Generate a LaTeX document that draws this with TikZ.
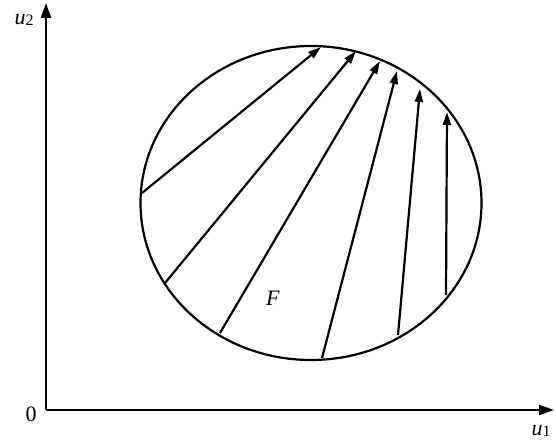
\documentclass[tikz,border=0pt]{standalone}
\usepackage{fontspec}
\setmainfont{Liberation Serif}
\usetikzlibrary{arrows.meta,shapes.geometric}
\begin{document}
\begin{tikzpicture}[x=1pt,y=-1pt,
  axis/.style={line width=2.3pt,-{Triangle[length=15pt,width=10pt]}},
  flow/.style={line width=2.2pt,-{Triangle[length=13pt,width=8pt]}},
  lab/.style={font=\fontsize{22}{24}\selectfont}]
\useasboundingbox (0,0) rectangle (556,441);
\coordinate (O) at (46,410);
\coordinate (Y) at (46,3);
\coordinate (X) at (554,410);
\draw[axis] (O) -- (Y);
\draw[axis] (O) -- (X);
\node[lab,anchor=base] (u2) at (24,25) {\textit{u}\raisebox{-1pt}{\fontsize{16}{18}\selectfont 2}};
\node[lab,anchor=base] (u1) at (541,435) {\textit{u}\raisebox{-1pt}{\fontsize{16}{18}\selectfont 1}};
\node[lab,anchor=base] (zero) at (31,421) {0};
\node[draw,line width=2.2pt,ellipse,minimum width=341pt,minimum height=314pt,inner sep=0pt] (Freg) at (311,203) {};
\node[lab,anchor=base] (F) at (273,305) {\textit{F}};
\coordinate (a1) at (142,193); \coordinate (b1) at (321,47);
\coordinate (a2) at (165,283); \coordinate (b2) at (356,51);
\coordinate (a3) at (220,333); \coordinate (b3) at (380,61);
\coordinate (a4) at (322,358); \coordinate (b4) at (397,71);
\coordinate (a5) at (398,335); \coordinate (b5) at (420,89);
\coordinate (a6) at (446,295); \coordinate (b6) at (447,112);
\foreach \i in {1,...,6} \draw[flow] (a\i) -- (b\i);
\end{tikzpicture}
\end{document}
